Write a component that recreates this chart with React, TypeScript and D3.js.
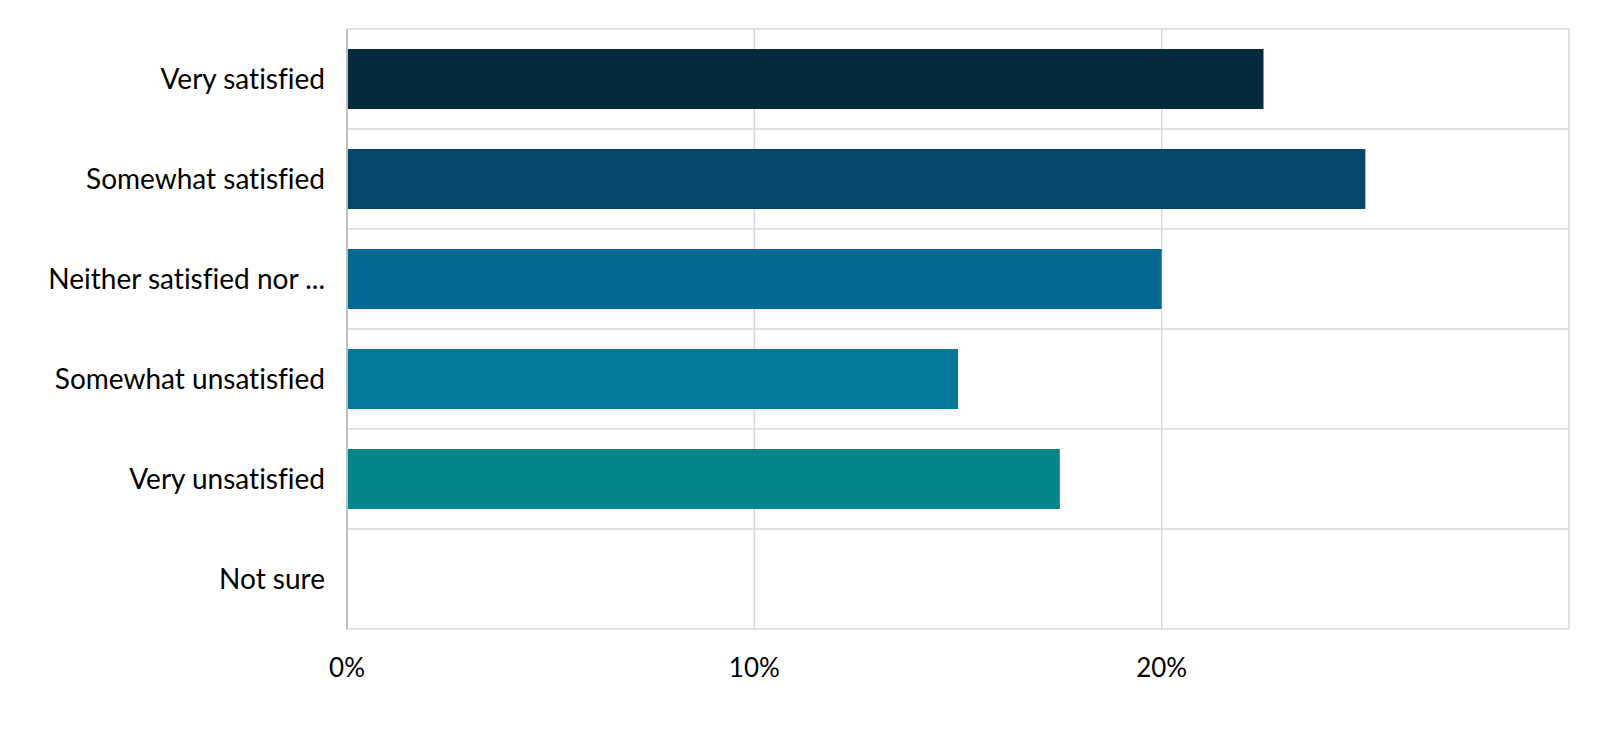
import { useEffect, useRef } from 'react';
import * as d3 from 'd3';

const categories = [
  'Very satisfied',
  'Somewhat satisfied',
  'Neither satisfied nor ...',
  'Somewhat unsatisfied',
  'Very unsatisfied',
  'Not sure',
];
const values = [22.5, 25, 20, 15, 17.5, 0];
const barColors = ['#032b3d', '#03486a', '#046893', '#047899', '#03858a', '#0a8f8a'];
const xTicks = [0, 10, 20, 30];
const tickLabels = ['0%', '10%', '20%', ''];

const W = 1600;
const H = 738;

export default function App() {
  const svgRef = useRef<SVGSVGElement>(null);

  useEffect(() => {
    if (!svgRef.current) return;
    const svg = d3.select(svgRef.current);
    svg.selectAll('*').remove();

    const margin = { top: 29, right: 31, bottom: 109, left: 347 };
    const innerWidth = W - margin.left - margin.right;
    const innerHeight = H - margin.top - margin.bottom;
    const font = 'Lato, "Open Sans", sans-serif';

    const g = svg.append('g').attr('transform', `translate(${margin.left},${margin.top})`);

    const x = d3.scaleLinear().domain([0, 30]).range([0, innerWidth]);
    const y = d3.scaleBand().domain(categories).range([0, innerHeight]).paddingInner(0.4).paddingOuter(0.2);
    const rowY = d3.scaleBand().domain(categories).range([0, innerHeight]);

    // vertical grid
    g.append('g')
      .selectAll('line')
      .data(xTicks.slice(1))
      .join('line')
      .attr('x1', d => x(d)).attr('x2', d => x(d))
      .attr('y1', 0).attr('y2', innerHeight)
      .attr('stroke', '#d9d9d9').attr('stroke-width', 1.5);

    // horizontal row separators
    g.append('g')
      .selectAll('line')
      .data(categories)
      .join('line')
      .attr('x1', 0).attr('x2', innerWidth)
      .attr('y1', d => rowY(d) || 0).attr('y2', d => rowY(d) || 0)
      .attr('stroke', '#d9d9d9').attr('stroke-width', 1.5);

    g.append('line')
      .attr('x1', 0).attr('x2', innerWidth)
      .attr('y1', innerHeight).attr('y2', innerHeight)
      .attr('stroke', '#d9d9d9').attr('stroke-width', 1.5);

    // bars
    g.append('g')
      .selectAll('rect')
      .data(values)
      .join('rect')
      .attr('x', 0)
      .attr('y', (_, i) => y(categories[i]) || 0)
      .attr('width', d => x(d))
      .attr('height', y.bandwidth())
      .attr('fill', (_, i) => barColors[i]);

    // left axis line
    g.append('line')
      .attr('x1', 0).attr('x2', 0)
      .attr('y1', 0).attr('y2', innerHeight)
      .attr('stroke', '#bfbfbf').attr('stroke-width', 2);

    // category labels
    g.append('g')
      .selectAll('text')
      .data(categories)
      .join('text')
      .attr('x', -22)
      .attr('y', d => (rowY(d) || 0) + rowY.bandwidth() / 2)
      .attr('dy', '0.35em')
      .attr('text-anchor', 'end')
      .attr('font-family', font)
      .attr('font-size', 28)
      .style('font-variant-ligatures', 'none')
      .attr('fill', '#000')
      .text(d => d);

    // x tick labels
    g.append('g')
      .selectAll('text')
      .data(xTicks)
      .join('text')
      .attr('x', d => x(d))
      .attr('y', innerHeight + 48)
      .attr('text-anchor', 'middle')
      .attr('font-family', font)
      .attr('font-size', 26)
      .attr('fill', '#000')
      .text((_, i) => tickLabels[i]);
  }, []);

  return (
    <svg
      ref={svgRef}
      width={W}
      height={H}
      style={{ position: 'absolute', left: 0, top: 0, background: '#fff' }}
    />
  );
}
